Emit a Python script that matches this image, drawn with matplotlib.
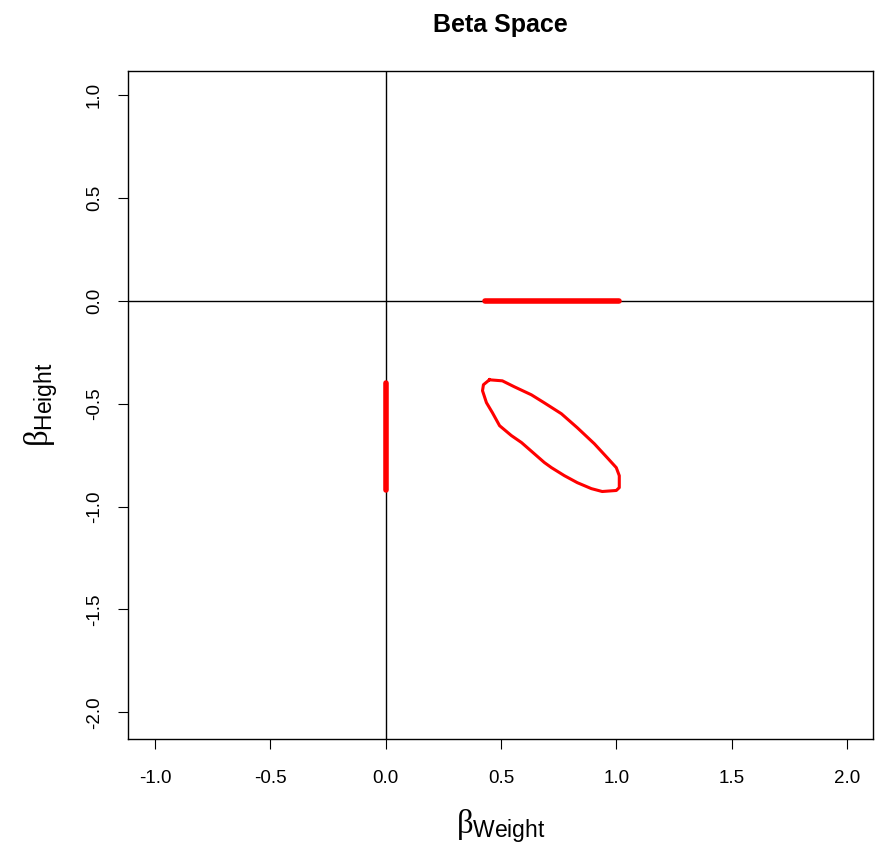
import matplotlib
matplotlib.use("Agg")
import matplotlib.pyplot as plt

plt.rcParams['font.family'] = ['Liberation Sans', 'DejaVu Sans']
plt.rcParams['mathtext.fontset'] = 'custom'
plt.rcParams['mathtext.rm'] = 'Liberation Sans'
plt.rcParams['mathtext.it'] = 'Liberation Serif'

# confidence region outline (beta_weight, beta_height)
ellipse_x = [0.450, 0.506, 0.558, 0.632, 0.688, 0.762, 0.831, 0.905, 0.961, 1.000,
             1.013, 1.013, 1.000, 0.939, 0.892, 0.831, 0.775, 0.719, 0.688, 0.589,
             0.545, 0.494, 0.463, 0.437, 0.420, 0.424, 0.450]
ellipse_y = [-0.384, -0.389, -0.418, -0.457, -0.496, -0.549, -0.617, -0.695, -0.763, -0.811,
             -0.850, -0.908, -0.922, -0.927, -0.913, -0.884, -0.850, -0.811, -0.786, -0.689,
             -0.655, -0.607, -0.544, -0.495, -0.437, -0.408, -0.384]

# marginal intervals
weight_ci = [0.43, 1.01]
height_ci = [-0.40, -0.92]

xticks = [-1.0, -0.5, 0.0, 0.5, 1.0, 1.5, 2.0]
yticks = [-2.0, -1.5, -1.0, -0.5, 0.0, 0.5, 1.0]

fig = plt.figure(figsize=(8.84, 8.46), dpi=100)
ax = fig.add_axes([128 / 884, 1 - 739 / 846, (873 - 128) / 884, (739 - 71) / 846])

ax.axhline(0, color='black', lw=1)
ax.axvline(0, color='black', lw=1)

ax.plot(weight_ci, [0, 0], color='red', lw=4, solid_capstyle='round')
ax.plot([0, 0], height_ci, color='red', lw=4, solid_capstyle='round')
ax.plot(ellipse_x, ellipse_y, color='red', lw=2.2)

ax.set_xlim(-1.117, 2.113)
ax.set_ylim(-2.13, 1.117)
ax.set_xticks(xticks)
ax.set_yticks(yticks)
ax.set_xticklabels([f'{v:.1f}' for v in xticks])
ax.set_yticklabels([f'{v:.1f}' for v in yticks], rotation=90, va='center')
ax.tick_params(direction='out', length=7, labelsize=13.5)
ax.tick_params(axis='x', pad=15.5)
ax.tick_params(axis='y', pad=11)
for s in ax.spines.values():
    s.set_linewidth(1)

ax.set_xlabel(r'$\beta_{\mathrm{Weight}}$', fontsize=23.5, labelpad=14)
ax.set_ylabel(r'$\beta_{\mathrm{Height}}$', fontsize=23.5, labelpad=19)
ax.set_title('Beta Space', fontsize=18, fontweight='bold', pad=28)

fig.savefig('out.png', dpi=100)
